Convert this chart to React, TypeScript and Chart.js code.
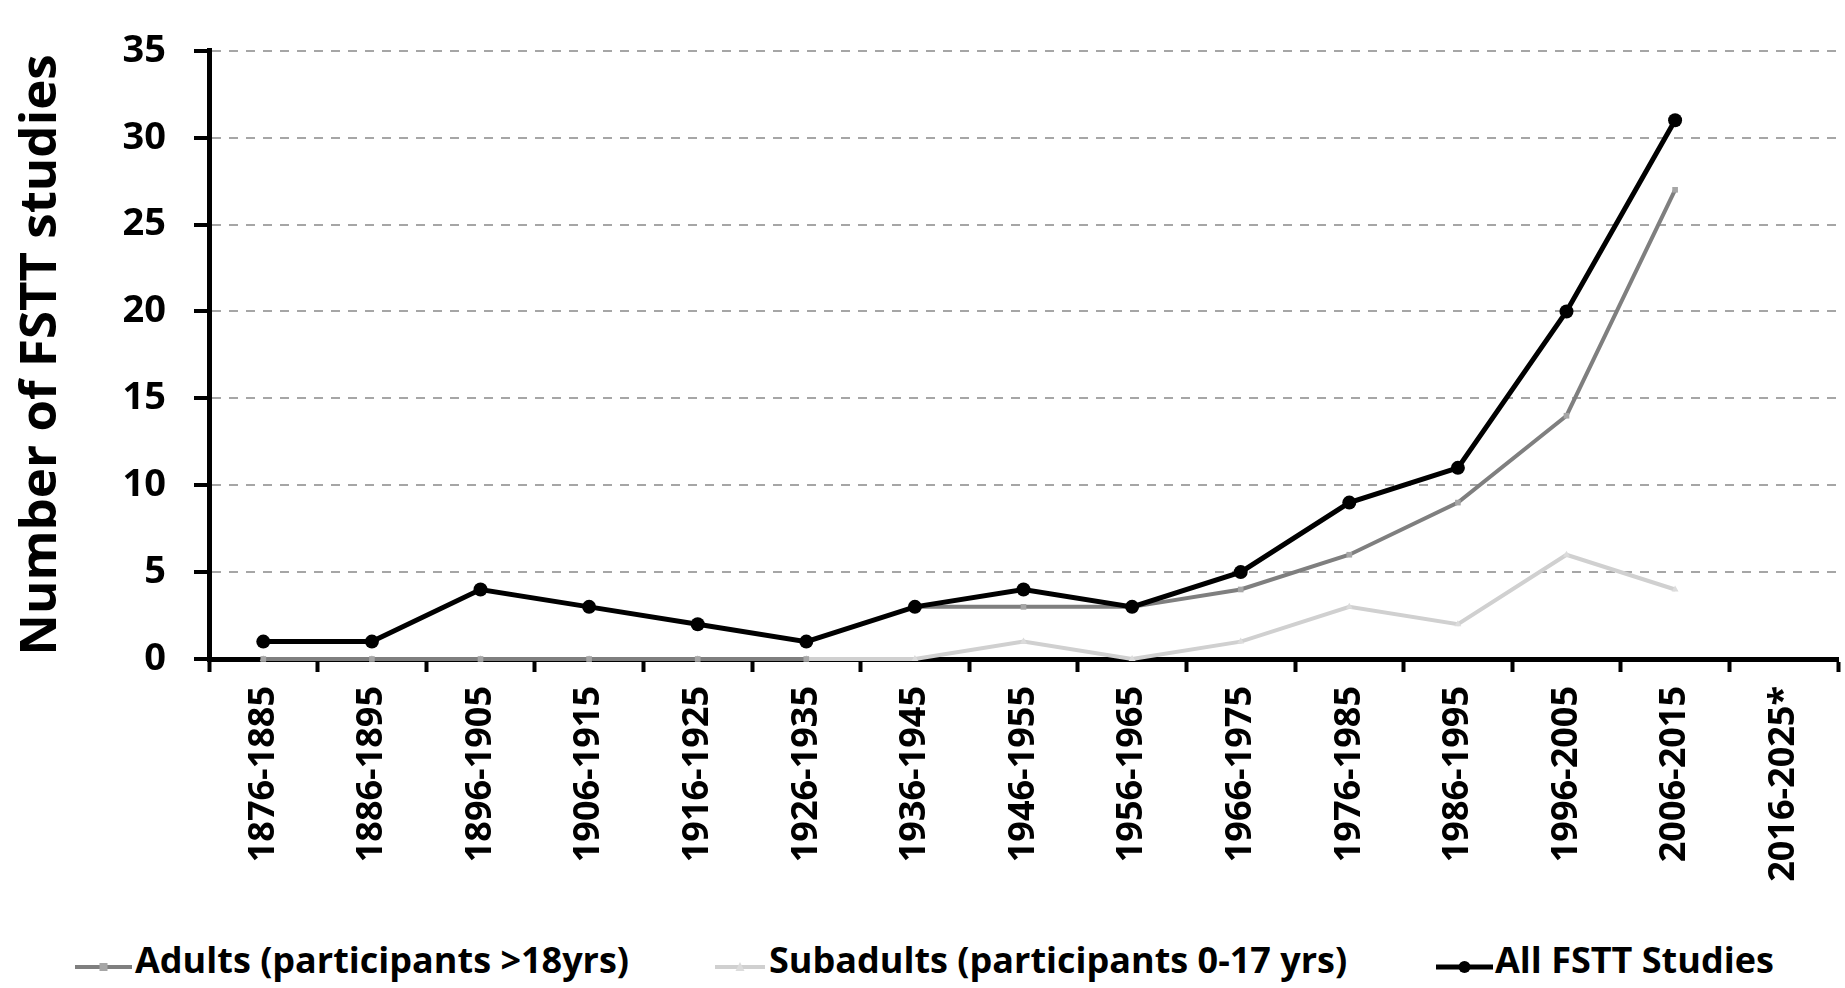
import React, { useEffect, useRef } from "react";
import { Chart, registerables } from "chart.js";

Chart.register(...registerables);

const categories = [
  "1876-1885", "1886-1895", "1896-1905", "1906-1915", "1916-1925",
  "1926-1935", "1936-1945", "1946-1955", "1956-1965", "1966-1975",
  "1976-1985", "1986-1995", "1996-2005", "2006-2015", "2016-2025*",
];
const allStudies = [1, 1, 4, 3, 2, 1, 3, 4, 3, 5, 9, 11, 20, 31, null];
const adults = [0, 0, 0, 0, 0, 0, 3, 3, 3, 4, 6, 9, 14, 27, null];
const subadults = [0, 0, 0, 0, 0, 0, 0, 1, 0, 1, 3, 2, 6, 4, null];
const yMin = 0;
const yMax = 35;
const yStep = 5;
const yTitle = "Number of FSTT studies";
const seriesNames = [
  "Adults (participants >18yrs)",
  "Subadults (participants 0-17 yrs)",
  "All FSTT Studies",
];

const FONT = "'Open Sans', 'DejaVu Sans', sans-serif";
const C_ALL = "#000000";
const C_ADULT = "#7f7f7f";
const C_ADULT_PT = "#a6a6a6";
const C_SUB = "#d0d0d0";
const C_SUB_PT = "#dcdcdc";

function Symbol({ kind, w }: { kind: "adult" | "sub" | "all"; w: number }) {
  const line = kind === "all" ? C_ALL : kind === "adult" ? C_ADULT : C_SUB;
  const c = w / 2;
  return (
    <svg width={w} height={16} style={{ display: "block" }}>
      <line x1={0} y1={8} x2={w} y2={8} stroke={line} strokeWidth={kind === "all" ? 5 : 4} />
      {kind === "all" && <circle cx={c} cy={8} r={6} fill={C_ALL} />}
      {kind === "adult" && <rect x={c - 4} y={4} width={8} height={8} fill={C_ADULT_PT} />}
      {kind === "sub" && <polygon points={`${c},3 ${c + 4.5},12 ${c - 4.5},12`} fill={C_SUB_PT} />}
    </svg>
  );
}

export default function App() {
  const canvasRef = useRef<HTMLCanvasElement | null>(null);

  useEffect(() => {
    document.body.style.margin = "0";
    const canvas = canvasRef.current;
    if (!canvas) return;
    const chart = new Chart(canvas, {
      type: "line",
      data: {
        labels: categories,
        datasets: [
          {
            label: seriesNames[2],
            data: allStudies,
            borderColor: C_ALL,
            backgroundColor: C_ALL,
            borderWidth: 5,
            pointStyle: "circle",
            pointRadius: 7,
            pointBackgroundColor: C_ALL,
            pointBorderColor: C_ALL,
            pointBorderWidth: 0,
            tension: 0,
            clip: false,
          },
          {
            label: seriesNames[0],
            data: adults,
            borderColor: C_ADULT,
            backgroundColor: C_ADULT_PT,
            borderWidth: 4,
            pointStyle: "rect",
            pointRadius: 4,
            pointBackgroundColor: C_ADULT_PT,
            pointBorderColor: C_ADULT_PT,
            pointBorderWidth: 0,
            tension: 0,
            clip: false,
            segment: {
              borderColor: (ctx: any) =>
                ctx.p0.parsed.y === 0 && ctx.p1.parsed.y > 1 ? "rgba(0,0,0,0)" : undefined,
            },
          },
          {
            label: seriesNames[1],
            data: subadults,
            borderColor: C_SUB,
            backgroundColor: C_SUB_PT,
            borderWidth: 4,
            pointStyle: "triangle",
            pointRadius: 4,
            pointBackgroundColor: C_SUB_PT,
            pointBorderColor: C_SUB_PT,
            pointBorderWidth: 0,
            tension: 0,
            clip: false,
          },
        ],
      },
      options: {
        animation: false,
        responsive: false,
        maintainAspectRatio: false,
        layout: { padding: { top: 32, left: 0, right: 0, bottom: 0 } },
        plugins: {
          legend: { display: false },
          tooltip: { enabled: false },
        },
        scales: {
          x: {
            type: "category",
            offset: true,
            afterFit: (s: any) => {
              s.height = 241;
            },
            grid: {
              offset: true,
              drawOnChartArea: false,
              drawTicks: true,
              tickLength: 13,
              tickColor: "#000",
              tickWidth: 4,
              color: "#000",
            },
            border: { display: true, color: "#000", width: 5 },
            ticks: {
              autoSkip: false,
              maxRotation: 90,
              minRotation: 90,
              padding: 14,
              color: "#000",
              font: { family: FONT, size: 36, weight: "bold" },
            },
          },
          y: {
            min: yMin,
            max: yMax,
            afterFit: (s: any) => {
              s.width = 209;
            },
            grid: {
              drawOnChartArea: true,
              drawTicks: true,
              tickLength: 15,
              tickColor: "#000",
              tickWidth: 4,
              lineWidth: 2,
              color: (ctx: any) => (ctx.tick && ctx.tick.value === 0 ? "rgba(0,0,0,0)" : "#a6a6a6"),
            },
            border: { display: true, color: "#000", width: 5, dash: [9, 8] },
            ticks: {
              stepSize: yStep,
              padding: 28,
              color: "#000",
              font: { family: FONT, size: 38, weight: "bold" },
            },
            title: {
              display: true,
              text: yTitle,
              color: "#000",
              padding: { top: 11, bottom: 0 },
              font: { family: FONT, size: 51, weight: "bold" },
            },
          },
        },
      },
    } as any);
    return () => chart.destroy();
  }, []);

  const legendItems: { kind: "adult" | "sub" | "all"; sx: number; sw: number; tx: number; text: string }[] = [
    { kind: "adult", sx: 75, sw: 57, tx: 135, text: seriesNames[0] },
    { kind: "sub", sx: 715, sw: 50, tx: 769, text: seriesNames[1] },
    { kind: "all", sx: 1436, sw: 57, tx: 1495, text: seriesNames[2] },
  ];

  return (
    <div style={{ position: "fixed", left: 0, top: 0, width: 1845, height: 988, background: "#fff", overflow: "hidden" }}>
      <canvas ref={canvasRef} width={1845} height={900} style={{ position: "absolute", left: 0, top: 0, width: 1845, height: 900 }} />
      {legendItems.map((it) => (
        <React.Fragment key={it.text}>
          <div style={{ position: "absolute", left: it.sx, top: 959 }}>
            <Symbol kind={it.kind} w={it.sw} />
          </div>
          <div
            style={{
              position: "absolute",
              left: it.tx,
              top: 942,
              fontFamily: FONT,
              fontWeight: "bold",
              fontSize: 36,
              lineHeight: "36px",
              color: "#000",
              whiteSpace: "nowrap",
            }}
          >
            {it.text}
          </div>
        </React.Fragment>
      ))}
    </div>
  );
}
